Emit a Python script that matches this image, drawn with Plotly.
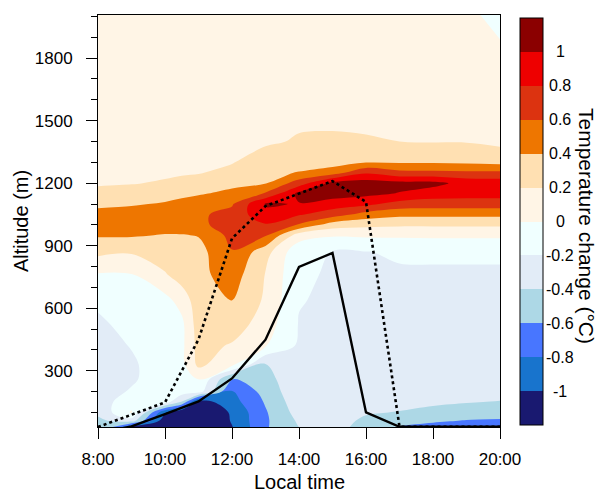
import plotly.graph_objects as go

# ---------------- data ----------------
hours = [8, 9, 10, 10.5, 11, 12, 13, 14, 15, 16, 17, 18, 19, 20]
altitude_m = [20, 60, 100, 150, 200, 260, 330, 420, 520, 640, 760, 870, 950,
              1000, 1050, 1100, 1150, 1200, 1250, 1300, 1400, 1500, 1700, 1900, 2010]

# temperature change profiles (degC), one per time, bottom -> top
dT_0800 = [-0.50, -0.44, -0.36, -0.30, -0.30, -0.30, -0.30, -0.28, -0.25, -0.15, -0.02, 0.25, 0.42,
           0.50, 0.46, 0.36, 0.25, 0.18, 0.15, 0.13, 0.12, 0.10, 0.08, 0.06, 0.05]
dT_0900 = [-1.30, -0.30, 0.02, -0.08, -0.18, -0.23, -0.23, -0.19, -0.12, -0.06, -0.01, 0.22, 0.42,
           0.50, 0.48, 0.38, 0.28, 0.19, 0.16, 0.14, 0.12, 0.10, 0.08, 0.06, 0.05]
dT_1000 = [-1.30, -1.15, -0.98, -0.10, -0.08, -0.08, -0.09, -0.10, -0.10, -0.06, 0.18, 0.32, 0.39,
           0.48, 0.52, 0.42, 0.32, 0.22, 0.17, 0.15, 0.13, 0.11, 0.09, 0.07, 0.06]
dT_1030 = [-1.35, -1.25, -1.20, -0.42, -0.10, -0.08, -0.06, -0.05, -0.05, 0.08, 0.30, 0.35, 0.39,
           0.50, 0.55, 0.46, 0.35, 0.25, 0.18, 0.16, 0.14, 0.12, 0.10, 0.08, 0.06]
dT_1100 = [-1.40, -1.32, -1.25, -1.10, -0.10, 0.01, 0.25, 0.27, 0.30, 0.32, 0.34, 0.33, 0.41,
           0.55, 0.57, 0.50, 0.38, 0.28, 0.19, 0.16, 0.14, 0.12, 0.10, 0.08, 0.07]
dT_1200 = [-1.02, -0.98, -0.97, -0.88, -0.82, -0.62, 0.05, 0.18, 0.30, 0.41, 0.50, 0.59, 0.66,
           0.70, 0.66, 0.58, 0.45, 0.35, 0.25, 0.19, 0.16, 0.14, 0.11, 0.09, 0.08]
dT_1300 = [-0.62, -0.63, -0.62, -0.58, -0.52, -0.47, -0.41, 0.01, 0.10, 0.17, 0.19, 0.28, 0.62,
           0.78, 0.95, 1.02, 0.62, 0.39, 0.35, 0.30, 0.17, 0.15, 0.12, 0.10, 0.09]
dT_1400 = [-0.41, -0.37, -0.32, -0.28, -0.26, -0.25, -0.24, -0.23, -0.21, -0.19, -0.17, -0.15, 0.10,
           0.58, 0.82, 0.99, 1.05, 0.70, 0.41, 0.32, 0.22, 0.17, 0.14, 0.11, 0.10]
dT_1500 = [-0.33, -0.31, -0.29, -0.27, -0.26, -0.25, -0.25, -0.24, -0.24, -0.23, -0.22, -0.205, 0.02,
           0.30, 0.70, 0.90, 1.10, 1.06, 0.50, 0.32, 0.22, 0.18, 0.15, 0.12, 0.11]
dT_1600 = [-0.48, -0.44, -0.38, -0.33, -0.30, -0.28, -0.27, -0.26, -0.25, -0.24, -0.23, -0.205, 0.03,
           0.25, 0.52, 0.85, 1.05, 1.10, 0.78, 0.39, 0.21, 0.18, 0.15, 0.12, 0.10]
dT_1700 = [-0.64, -0.52, -0.41, -0.34, -0.30, -0.28, -0.27, -0.26, -0.25, -0.24, -0.22, -0.18, 0.03,
           0.23, 0.45, 0.72, 0.99, 1.06, 0.66, 0.38, 0.20, 0.17, 0.14, 0.10, 0.08]
dT_1800 = [-0.70, -0.57, -0.45, -0.37, -0.32, -0.30, -0.29, -0.28, -0.27, -0.26, -0.25, -0.14, 0.03,
           0.23, 0.45, 0.70, 0.90, 1.06, 0.65, 0.38, 0.19, 0.16, 0.13, 0.09, 0.06]
dT_1900 = [-0.73, -0.61, -0.50, -0.39, -0.33, -0.30, -0.29, -0.28, -0.27, -0.26, -0.25, -0.14, 0.03,
           0.23, 0.45, 0.70, 0.88, 0.93, 0.64, 0.37, 0.19, 0.16, 0.12, 0.05, 0.02]
dT_2000 = [-0.76, -0.62, -0.52, -0.41, -0.33, -0.30, -0.29, -0.28, -0.27, -0.26, -0.25, -0.14, 0.03,
           0.23, 0.45, 0.70, 0.88, 0.92, 0.64, 0.35, 0.15, 0.13, 0.10, -0.005, -0.03]

# boundary layer heights (m)
line_hours = [8, 9, 10, 11, 12, 13, 14, 15, 16, 17, 18, 19, 20]
pbl_solid = [0, 33, 92, 153, 263, 449, 798, 865, 100, 31, 31, 31, 31]
pbl_dotted = [30, 90, 148, 450, 935, 1090, 1150, 1210, 1110, 31, 31, 31, 31]

# colour levels
levels = [-1.0, -0.8, -0.6, -0.4, -0.2, 0.0, 0.2, 0.4, 0.6, 0.8, 1.0]
level_labels = ["-1", "-0.8", "-0.6", "-0.4", "-0.2", "0", "0.2", "0.4", "0.6", "0.8", "1"]
bin_colors = ["#191970", "#1874CD", "#4876FF", "#ADD8E6", "#E2ECF7", "#F0FFFF",
              "#FFF5E6", "#FFE0B2", "#EE7600", "#DC3310", "#EE0000", "#8B0000"]

x_tickvals = [8, 10, 12, 14, 16, 18, 20]
x_ticktext = ["8:00", "10:00", "12:00", "14:00", "16:00", "18:00", "20:00"]
y_tickvals = [300, 600, 900, 1200, 1500, 1800]

# ---------------- figure ----------------
profiles = [dT_0800, dT_0900, dT_1000, dT_1030, dT_1100, dT_1200, dT_1300, dT_1400,
            dT_1500, dT_1600, dT_1700, dT_1800, dT_1900, dT_2000]
z = [[p[i] for p in profiles] for i in range(len(altitude_m))]

nb = len(bin_colors)
contour_scale = [[k / (nb - 1), c] for k, c in enumerate(bin_colors)]
step_scale = []
for k, c in enumerate(bin_colors):
    step_scale.append([k / nb, c])
    step_scale.append([(k + 1) / nb, c])

FONT = "Liberation Sans, Arial, Helvetica, sans-serif"

fig = go.Figure()
fig.add_trace(go.Contour(
    x=hours, y=altitude_m, z=z,
    autocontour=False,
    contours=dict(start=levels[0], end=levels[-1], size=0.2, coloring="fill", showlines=False),
    colorscale=contour_scale,
    line=dict(width=0),
    showscale=False,
    hoverinfo="skip",
))
fig.add_trace(go.Scatter(
    x=line_hours, y=pbl_solid, mode="lines",
    line=dict(color="black", width=2.4), showlegend=False, hoverinfo="skip",
))
fig.add_trace(go.Scatter(
    x=line_hours, y=pbl_dotted, mode="lines",
    line=dict(color="black", width=2.6, dash="3px,3px"), showlegend=False, hoverinfo="skip",
))

# colorbar (discrete) via a dummy marker trace
L, R, T, B = 98, 103, 15, 67
W, H = 603, 494
pw, ph = W - L - R, H - T - B
cb_x = (520 - L) / pw
cb_thick = 23
cb_len = 407 / ph
cb_yc = (H - B - 221.5) / ph
fig.add_trace(go.Scatter(
    x=[None], y=[None], mode="markers", showlegend=False, hoverinfo="skip",
    marker=dict(
        color=[0], cmin=-1.2, cmax=1.2, colorscale=step_scale, showscale=True,
        colorbar=dict(
            x=cb_x, xanchor="left", xpad=0, y=cb_yc, yanchor="middle", ypad=0,
            len=cb_len, lenmode="fraction", thickness=cb_thick, thicknessmode="pixels",
            outlinewidth=1, outlinecolor="black", showticklabels=False, ticks="",
        ),
    ),
))

shapes = []
annotations = []
cb_bottom = cb_yc - cb_len / 2
for k, (lv, lab) in enumerate(zip(levels, level_labels)):
    yy = cb_bottom + (k + 1) * cb_len / nb
    shapes.append(dict(type="line", xref="paper", yref="paper",
                       x0=cb_x, x1=cb_x + cb_thick / pw, y0=yy, y1=yy,
                       line=dict(color="#222222", width=1)))
    annotations.append(dict(xref="paper", yref="paper", x=(560 - L) / pw, y=yy,
                            text=lab, showarrow=False, xanchor="center", yanchor="middle",
                            font=dict(size=16, color="black", family=FONT)))
annotations.append(dict(xref="paper", yref="paper", x=(587 - L) / pw, y=(H - B - 226) / ph,
                        text="Temperature change (°C)", textangle=90, showarrow=False,
                        xanchor="center", yanchor="middle",
                        font=dict(size=21, color="black", family=FONT)))
annotations.append(dict(xref="paper", yref="paper", x=0.5, y=(H - B - 482) / ph,
                        text="Local time", showarrow=False,
                        xanchor="center", yanchor="middle", borderpad=0,
                        font=dict(size=20, color="black", family=FONT)))

fig.update_layout(
    width=W, height=H,
    margin=dict(l=L, r=R, t=T, b=B, pad=0, autoexpand=False),
    paper_bgcolor="white", plot_bgcolor="white",
    font=dict(family=FONT, color="black"),
    shapes=shapes, annotations=annotations,
    showlegend=False,
)
fig.update_xaxes(
    range=[8, 20], tickvals=x_tickvals, ticktext=x_ticktext,
    ticks="outside", ticklen=11, tickwidth=1, tickcolor="black",
    tickfont=dict(size=17), ticklabelstandoff=6,
    showline=True, linecolor="black", linewidth=1, mirror=True,
    showgrid=False, zeroline=False, automargin=False,
)
fig.update_yaxes(
    range=[30, 2007], tickvals=y_tickvals,
    ticks="outside", ticklen=11, tickwidth=1, tickcolor="black",
    tickfont=dict(size=17), ticklabelstandoff=10,
    minor=dict(tickvals=[v for v in range(100, 2001, 100) if v % 300 != 0],
               ticks="outside", ticklen=6, tickcolor="black", showgrid=False),
    showline=True, linecolor="black", linewidth=1, mirror=True,
    showgrid=False, zeroline=False, automargin=False,
    title=dict(text="Altitude (m)", font=dict(size=20), standoff=0),
)

fig.write_html("out.html")
